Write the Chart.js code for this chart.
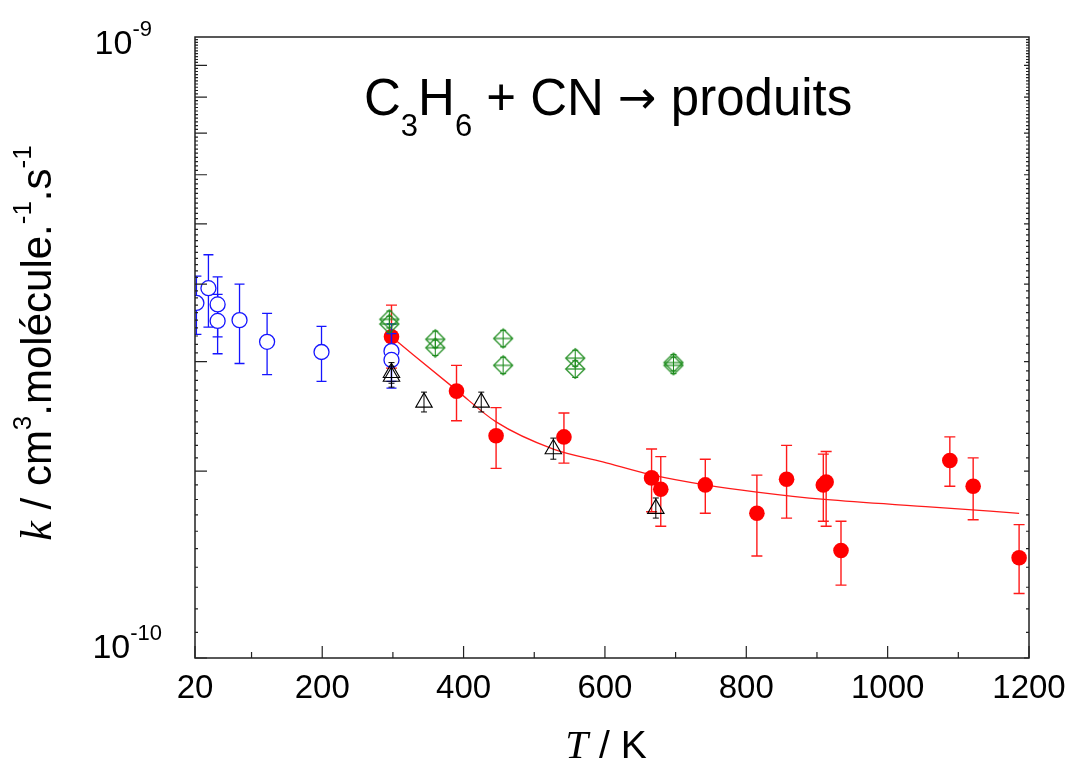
<!DOCTYPE html>
<html><head><meta charset="utf-8">
<script src="https://cdn.jsdelivr.net/npm/chart.js@4.4.0/dist/chart.umd.min.js"></script>
<style>html,body{margin:0;padding:0;background:#fff;}canvas{display:block;}</style>
</head><body>
<canvas id="c" width="1070" height="763"></canvas>
<script>
// ---- data (k in cm3 molecule-1 s-1, T in K) ----
const BLUE_T    = [22, 39, 52, 52, 83, 122, 199, 298, 298];
const BLUE_K    = [3.73e-10, 3.94e-10, 3.71e-10, 3.49e-10, 3.50e-10, 3.23e-10, 3.11e-10, 3.12e-10, 3.02e-10];
const BLUE_HI   = [4.12e-10, 4.46e-10, 4.11e-10, 3.85e-10, 4.00e-10, 3.59e-10, 3.42e-10, 3.45e-10, 3.33e-10];
const BLUE_LO   = [3.32e-10, 3.41e-10, 3.29e-10, 3.09e-10, 2.98e-10, 2.86e-10, 2.79e-10, 2.79e-10, 2.72e-10];

const GREEN_T   = [295, 295, 360, 360, 456, 456, 558, 558, 697, 697];
const GREEN_K   = [3.51e-10, 3.45e-10, 3.26e-10, 3.16e-10, 3.27e-10, 2.96e-10, 3.04e-10, 2.92e-10, 2.99e-10, 2.96e-10];
const GREEN_HI  = [3.62e-10, 3.55e-10, 3.36e-10, 3.25e-10, 3.37e-10, 3.05e-10, 3.13e-10, 3.01e-10, 3.08e-10, 3.05e-10];
const GREEN_LO  = [3.40e-10, 3.35e-10, 3.16e-10, 3.07e-10, 3.17e-10, 2.87e-10, 2.95e-10, 2.83e-10, 2.90e-10, 2.87e-10];

const TRI_T     = [298, 298, 344, 425, 527, 672];
const TRI_K     = [2.88e-10, 2.84e-10, 2.58e-10, 2.58e-10, 2.17e-10, 1.74e-10];
const TRI_HI    = [2.99e-10, 2.95e-10, 2.68e-10, 2.68e-10, 2.26e-10, 1.81e-10];
const TRI_LO    = [2.77e-10, 2.73e-10, 2.49e-10, 2.49e-10, 2.09e-10, 1.68e-10];

const RED_T     = [298, 390, 446, 542, 666, 679, 742, 815, 857, 909, 913, 934, 1088, 1121, 1186];
const RED_K     = [3.29e-10, 2.69e-10, 2.28e-10, 2.27e-10, 1.95e-10, 1.87e-10, 1.90e-10, 1.71e-10, 1.94e-10, 1.90e-10, 1.92e-10, 1.49e-10, 2.08e-10, 1.89e-10, 1.45e-10];
const RED_HI    = [3.70e-10, 2.96e-10, 2.53e-10, 2.48e-10, 2.17e-10, 2.11e-10, 2.09e-10, 1.97e-10, 2.20e-10, 2.13e-10, 2.15e-10, 1.66e-10, 2.27e-10, 2.10e-10, 1.64e-10];
const RED_LO    = [2.93e-10, 2.41e-10, 2.02e-10, 2.06e-10, 1.72e-10, 1.63e-10, 1.71e-10, 1.46e-10, 1.68e-10, 1.66e-10, 1.63e-10, 1.31e-10, 1.89e-10, 1.67e-10, 1.27e-10];

const FIT_T     = [298, 390, 446, 527, 597, 668, 742, 815, 911, 1064, 1186];
const FIT_K     = [3.29e-10, 2.70e-10, 2.40e-10, 2.17e-10, 2.07e-10, 1.97e-10, 1.90e-10, 1.85e-10, 1.80e-10, 1.75e-10, 1.71e-10];

const X_LABELS  = [20, 200, 400, 600, 800, 1000, 1200];
const X_MINOR   = [100, 300, 500, 700, 900, 1100];
const Y_LABELS  = [1e-10, 1e-9];
const Y_LABEL_EXP = ['-10', '-9'];

const SANS = '"Liberation Sans", Arial, sans-serif';
const SERIF = '"Liberation Serif", "Times New Roman", serif';

function pts(xs, ys){ return xs.map((x,i)=>({x:x, y:ys[i]})); }

function makeDiamond(color){
  const c = document.createElement('canvas'); c.width = 22; c.height = 22;
  const g = c.getContext('2d'); g.strokeStyle = color; g.lineWidth = 1.2;
  g.beginPath(); g.moveTo(11,1.5); g.lineTo(20.5,11); g.lineTo(11,20.5); g.lineTo(1.5,11); g.closePath(); g.stroke();
  g.beginPath(); g.moveTo(2,11); g.lineTo(20,11); g.stroke();
  return c;
}

const ERR = {
  0: {lo: TRI_LO, hi: TRI_HI, color: '#000000', cap: 3, w: 1},
  1: {lo: GREEN_LO, hi: GREEN_HI, color: '#1a8a1a', cap: 3, w: 1},
  2: {lo: BLUE_LO, hi: BLUE_HI, color: '#1515ff', cap: 5, w: 1.3},
  3: {lo: RED_LO, hi: RED_HI, color: '#ff1a1a', cap: 5.5, w: 1.4}
};

const errorBars = {
  id: 'errorBars',
  beforeDatasetDraw(chart, args){
    const e = ERR[args.index]; if (!e) return;
    const ds = chart.data.datasets[args.index];
    const {ctx, chartArea: a} = chart; const xs = chart.scales.x, ys = chart.scales.y;
    ctx.save();
    ctx.beginPath(); ctx.rect(a.left, a.top, a.right - a.left, a.bottom - a.top); ctx.clip();
    ctx.strokeStyle = e.color; ctx.lineWidth = e.w;
    ds.data.forEach((p, i) => {
      const px = xs.getPixelForValue(p.x);
      const y1 = ys.getPixelForValue(e.lo[i]), y2 = ys.getPixelForValue(e.hi[i]);
      ctx.beginPath();
      ctx.moveTo(px, y1); ctx.lineTo(px, y2);
      ctx.moveTo(px - e.cap, y1); ctx.lineTo(px + e.cap, y1);
      ctx.moveTo(px - e.cap, y2); ctx.lineTo(px + e.cap, y2);
      ctx.stroke();
    });
    ctx.restore();
  }
};

function drawRuns(ctx, runs, x, y){
  let cx = x;
  runs.forEach(r => { ctx.font = r.font; ctx.fillText(r.t, cx, y + (r.dy || 0)); cx += ctx.measureText(r.t).width; });
  return cx - x;
}
function runsWidth(ctx, runs){
  let w = 0; runs.forEach(r => { ctx.font = r.font; w += ctx.measureText(r.t).width; }); return w;
}

const axesAndText = {
  id: 'axesAndText',
  afterDatasetsDraw(chart){
    const {ctx, chartArea: a} = chart; const xs = chart.scales.x, ys = chart.scales.y;
    ctx.save();
    ctx.strokeStyle = '#222'; ctx.lineWidth = 1.5;
    ctx.strokeRect(a.left, a.top, a.right - a.left, a.bottom - a.top);
    ctx.lineWidth = 1.2;
    ctx.beginPath();
    X_LABELS.forEach(v => { const px = xs.getPixelForValue(v); ctx.moveTo(px, a.bottom); ctx.lineTo(px, a.bottom - 12); });
    X_MINOR.forEach(v => { const px = xs.getPixelForValue(v); ctx.moveTo(px, a.bottom); ctx.lineTo(px, a.bottom - 6); });
    for (let m = 10; m < 100; m++) {
      const v = m * 1e-11; const py = ys.getPixelForValue(v);
      const major = (m % 10 === 0);
      ctx.moveTo(a.left, py); ctx.lineTo(a.left + (major ? 12 : 3), py);
      ctx.moveTo(a.right, py); ctx.lineTo(a.right - (major ? 5 : 3), py);
    }
    ctx.stroke();

    ctx.fillStyle = '#000';
    ctx.textBaseline = 'alphabetic'; ctx.textAlign = 'center';
    ctx.font = '33px ' + SANS;
    X_LABELS.forEach(v => { ctx.fillText(String(v), xs.getPixelForValue(v), a.bottom + 40); });
    ctx.textAlign = 'left';
    Y_LABELS.forEach((v, i) => {
      const py = ys.getPixelForValue(v);
      const runs = [{t: '10', font: '34px ' + SANS}, {t: Y_LABEL_EXP[i], font: '22px ' + SANS, dy: -18}];
      const w = runsWidth(ctx, runs);
      const top = (v > 5e-10);
      const base = top ? py + 17 : py + 0;
      const right = top ? 152 : 162;
      drawRuns(ctx, runs, right - w, base);
    });
    const xt = [{t: 'T', font: 'italic 41px ' + SERIF}, {t: ' / K', font: '39px ' + SANS}];
    const xw = runsWidth(ctx, xt);
    drawRuns(ctx, xt, 606 - xw / 2, 758);
    ctx.save();
    ctx.translate(51, 343); ctx.rotate(-Math.PI / 2);
    const yt = [
      {t: 'k', font: 'italic 44px ' + SERIF},
      {t: ' / cm', font: '42px ' + SANS},
      {t: '3', font: '26px ' + SANS, dy: -20},
      {t: '.molécule.', font: '42px ' + SANS},
      {t: '-1', font: '26px ' + SANS, dy: -20},
      {t: '.s', font: '42px ' + SANS},
      {t: '-1', font: '26px ' + SANS, dy: -20}
    ];
    const yw = runsWidth(ctx, yt);
    drawRuns(ctx, yt, -yw / 2, 0);
    ctx.restore();
    const tt = [
      {t: 'C', font: '51px ' + SANS},
      {t: '3', font: '31px ' + SANS, dy: 21},
      {t: 'H', font: '51px ' + SANS},
      {t: '6', font: '31px ' + SANS, dy: 21},
      {t: ' + CN ', font: '51px ' + SANS},
      {t: '\u2192', font: '46px "DejaVu Sans", sans-serif', dy: -2},
      {t: ' produits', font: '51px ' + SANS}
    ];
    drawRuns(ctx, tt, 364, 115);
    ctx.restore();
  }
};

new Chart(document.getElementById('c'), {
  type: 'scatter',
  data: {
    datasets: [
      { label: 'tri', data: pts(TRI_T, TRI_K), pointStyle: 'triangle', pointRadius: 9.5,
        borderColor: '#000', backgroundColor: 'rgba(0,0,0,0)', borderWidth: 1.1 },
      { label: 'green', data: pts(GREEN_T, GREEN_K), pointStyle: makeDiamond('#1a8a1a'), pointRadius: 10 },
      { label: 'blue', data: pts(BLUE_T, BLUE_K), pointStyle: 'circle', pointRadius: 7.5,
        borderColor: '#1515ff', backgroundColor: '#ffffff', borderWidth: 1.3, clip: 0 },
      { label: 'red', data: pts(RED_T, RED_K), pointStyle: 'circle', pointRadius: 7.8,
        borderColor: '#ff0000', backgroundColor: '#ff0000', borderWidth: 0 },
      { label: 'fit', data: pts(FIT_T, FIT_K), showLine: true, pointRadius: 0, borderColor: '#ff1a1a',
        borderWidth: 1.3, cubicInterpolationMode: 'monotone', fill: false }
    ]
  },
  options: {
    responsive: false, animation: false, events: [],
    layout: { padding: { left: 195, right: 41, top: 37, bottom: 105 } },
    plugins: { legend: { display: false }, tooltip: { enabled: false } },
    scales: {
      x: { type: 'linear', min: 20, max: 1200, display: false },
      y: { type: 'logarithmic', min: 1e-10, max: 1e-9, display: false }
    }
  },
  plugins: [errorBars, axesAndText]
});
</script></body></html>
